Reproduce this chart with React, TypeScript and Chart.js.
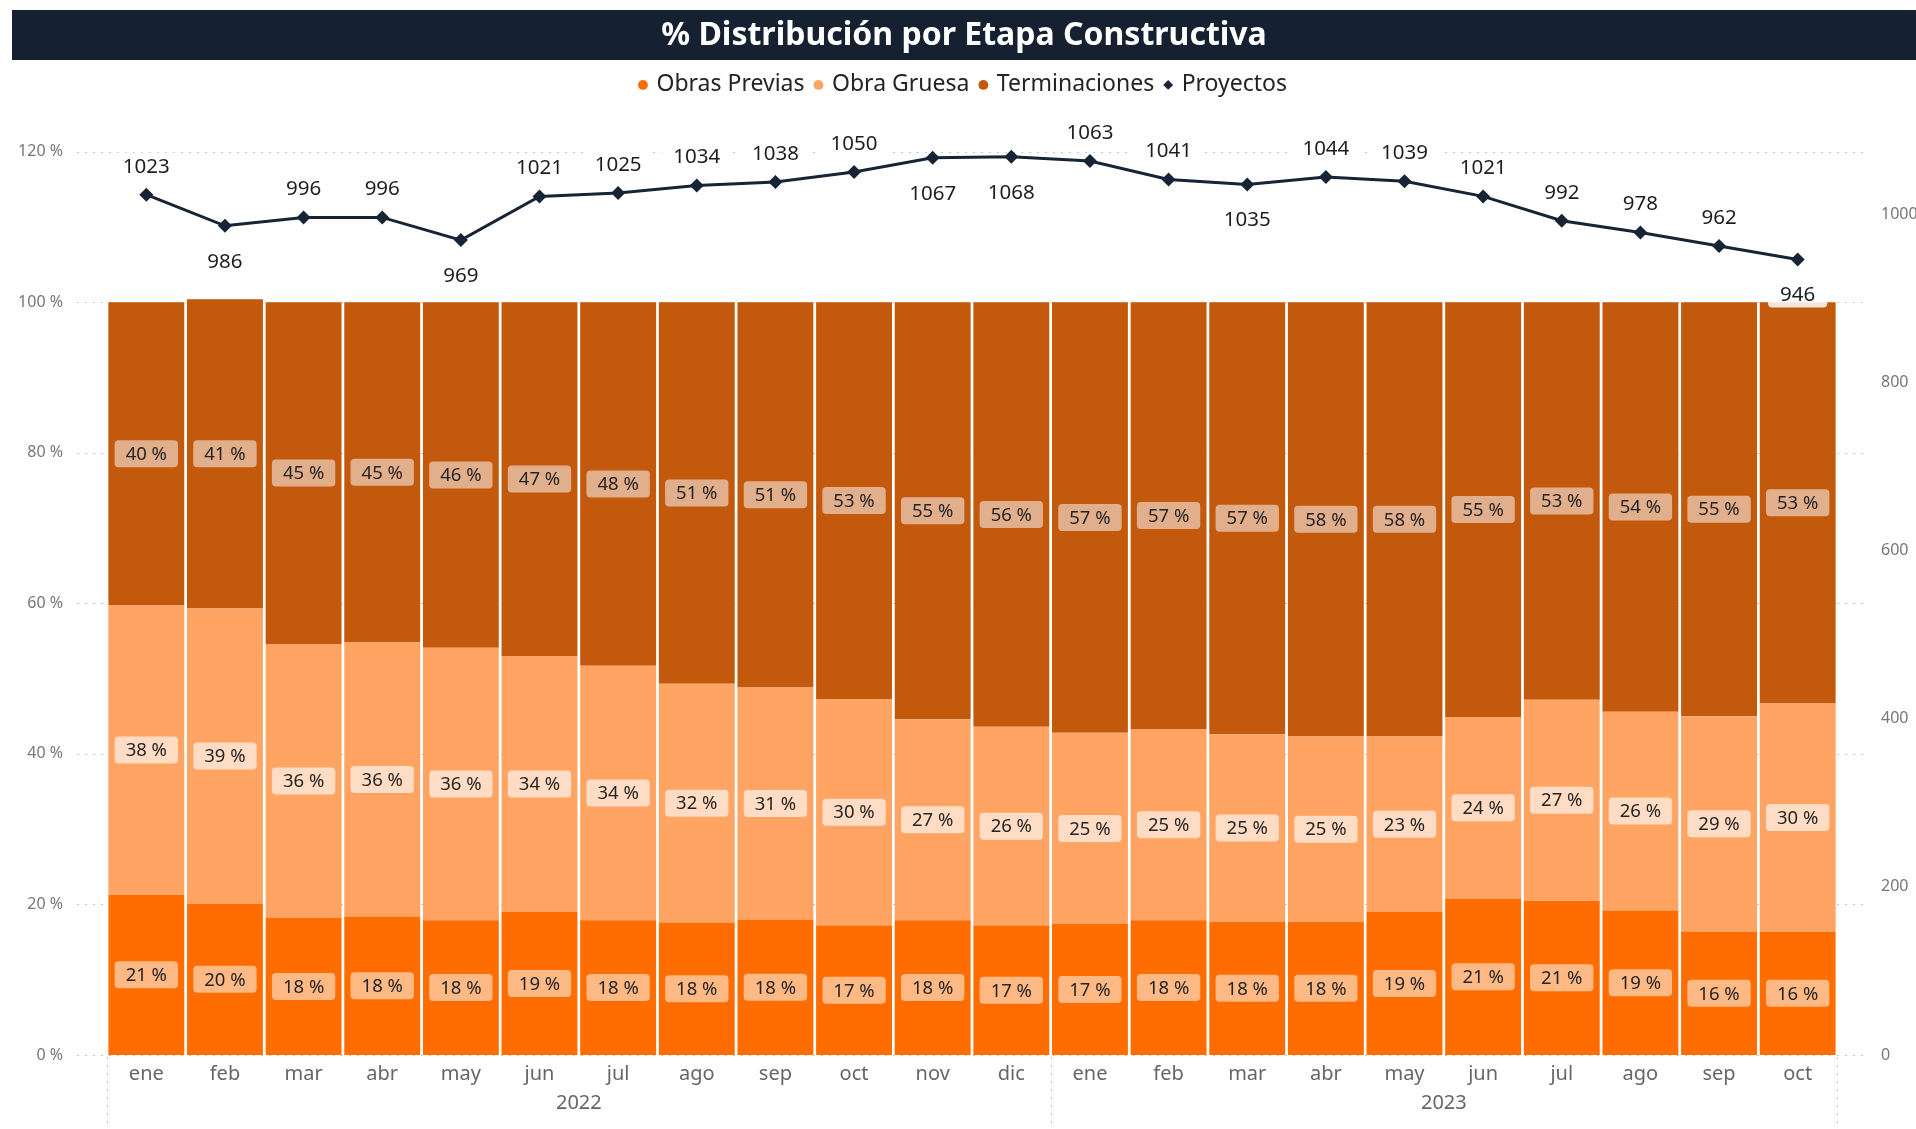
import React, { useEffect, useRef } from 'react';
import { Chart, registerables } from 'chart.js';

Chart.register(...registerables);

const months = ['ene', 'feb', 'mar', 'abr', 'may', 'jun', 'jul', 'ago', 'sep', 'oct', 'nov', 'dic', 'ene', 'feb', 'mar', 'abr', 'may', 'jun', 'jul', 'ago', 'sep', 'oct'];
const years = ['2022', '2023'];
const yearSpans = [12, 10];

const obrasPrevias = [21.3, 20.1, 18.2, 18.4, 17.9, 19.0, 17.9, 17.6, 18.0, 17.2, 17.9, 17.2, 17.4, 17.9, 17.7, 17.7, 19.0, 20.8, 20.5, 19.2, 16.4, 16.4];
const obraGruesa = [38.4, 39.2, 36.4, 36.4, 36.2, 34.0, 33.8, 31.7, 30.8, 30.1, 26.7, 26.4, 25.4, 25.4, 24.9, 24.6, 23.3, 24.1, 26.7, 26.4, 28.6, 30.3];
const terminaciones = [40.3, 41.1, 45.4, 45.2, 45.9, 47.0, 48.3, 50.7, 51.2, 52.7, 55.4, 56.4, 57.2, 56.7, 57.4, 57.7, 57.7, 55.1, 52.8, 54.4, 55.0, 53.3];
const proyectos = [1023, 986, 996, 996, 969, 1021, 1025, 1034, 1038, 1050, 1067, 1068, 1063, 1041, 1035, 1044, 1039, 1021, 992, 978, 962, 946];

const leftTicks = [0, 20, 40, 60, 80, 100, 120];
const rightTicks = [0, 200, 400, 600, 800, 1000];
const lineLabelBelow = [1, 4, 10, 11, 14, 21];

const FONT = '"Noto Sans", "Open Sans", sans-serif';
const COL_OP = '#FF6D00';
const COL_OG = '#FFA462';
const COL_T = '#C2590C';
const COL_LINE = '#172435';
const LABEL_BG = ['#FFB985', '#FFDCC3', '#E2AF8C'];

function roundRect(ctx: CanvasRenderingContext2D, x: number, y: number, w: number, h: number, r: number) {
  ctx.beginPath();
  ctx.moveTo(x + r, y);
  ctx.lineTo(x + w - r, y);
  ctx.quadraticCurveTo(x + w, y, x + w, y + r);
  ctx.lineTo(x + w, y + h - r);
  ctx.quadraticCurveTo(x + w, y + h, x + w - r, y + h);
  ctx.lineTo(x + r, y + h);
  ctx.quadraticCurveTo(x, y + h, x, y + h - r);
  ctx.lineTo(x, y + r);
  ctx.quadraticCurveTo(x, y, x + r, y);
  ctx.closePath();
}

const decorPlugin = {
  id: 'decor',
  beforeDraw(chart: any) {
    const ctx = chart.ctx as CanvasRenderingContext2D;
    ctx.save();
    ctx.fillStyle = '#FFFFFF';
    ctx.fillRect(0, 0, chart.width, chart.height);
    ctx.fillStyle = '#152131';
    ctx.fillRect(12, 10, chart.width - 12, 50);
    ctx.restore();
  },
  beforeDatasetsDraw(chart: any) {
    const ctx = chart.ctx as CanvasRenderingContext2D;
    const { chartArea, scales } = chart;
    const y = scales.y;
    ctx.save();
    ctx.strokeStyle = '#C4C4C4';
    ctx.lineWidth = 1;
    ctx.setLineDash([2, 6]);
    for (const v of leftTicks) {
      const py = Math.round(y.getPixelForValue(v)) + 0.5;
      ctx.beginPath();
      ctx.moveTo(77, py);
      ctx.lineTo(1866, py);
      ctx.stroke();
    }
    // year separators below the axis
    const cw = (chartArea.right - chartArea.left) / months.length;
    let idx = 0;
    const bounds = [0];
    yearSpans.forEach((s) => { idx += s; bounds.push(idx); });
    bounds.forEach((b) => {
      const px = Math.round(chartArea.left + b * cw) + 0.5;
      ctx.beginPath();
      ctx.moveTo(px, chartArea.bottom + 2);
      ctx.lineTo(px, chart.height - 4);
      ctx.stroke();
    });
    ctx.restore();
  },
  afterDatasetsDraw(chart: any) {
    const ctx = chart.ctx as CanvasRenderingContext2D;
    ctx.save();
    // bar labels
    ctx.font = `18.5px ${FONT}`;
    ctx.textAlign = 'center';
    ctx.textBaseline = 'middle';
    for (let d = 0; d < 3; d++) {
      const meta = chart.getDatasetMeta(d);
      const values = chart.data.datasets[d].data as number[];
      meta.data.forEach((el: any, j: number) => {
        const p = el.getProps(['x', 'y', 'base'], true);
        const cy = (p.y + p.base) / 2;
        const text = `${Math.round(values[j])} %`;
        const tw = ctx.measureText(text).width;
        const w = tw + 22;
        const h = 27;
        ctx.fillStyle = LABEL_BG[d];
        roundRect(ctx, p.x - w / 2, cy - h / 2, w, h, 4);
        ctx.fill();
        ctx.fillStyle = '#252423';
        ctx.fillText(text, p.x, cy + 1);
      });
    }
    // line labels
    const lmeta = chart.getDatasetMeta(3);
    ctx.font = `20.5px ${FONT}`;
    lmeta.data.forEach((el: any, j: number) => {
      const p = el.getProps(['x', 'y'], true);
      const below = lineLabelBelow.includes(j);
      const ty = below ? p.y + 35 : p.y - 29;
      const text = String(proyectos[j]);
      const tw = ctx.measureText(text).width;
      const w = tw + 24;
      const h = 26;
      ctx.fillStyle = 'rgba(255,255,255,0.85)';
      roundRect(ctx, p.x - w / 2, ty - h / 2, w, h, 4);
      ctx.fill();
      ctx.fillStyle = '#1E1E1E';
      ctx.fillText(text, p.x, ty + 1);
    });
    ctx.restore();
  },
  afterDraw(chart: any) {
    const ctx = chart.ctx as CanvasRenderingContext2D;
    const { chartArea } = chart;
    const cw = (chartArea.right - chartArea.left) / months.length;
    ctx.save();
    ctx.font = `20px ${FONT}`;
    ctx.fillStyle = '#666666';
    ctx.textAlign = 'center';
    ctx.textBaseline = 'middle';
    let start = 0;
    years.forEach((yr, i) => {
      const end = start + yearSpans[i];
      const cx = chartArea.left + ((start + end) / 2) * cw;
      ctx.fillText(yr, cx, 1103);
      start = end;
    });
    ctx.restore();
  },
};

export default function App() {
  const ref = useRef<HTMLCanvasElement>(null);
  useEffect(() => {
    const canvas = ref.current;
    if (!canvas) return;
    const chart = new Chart(canvas, {
      type: 'bar',
      data: {
        labels: months,
        datasets: [
          { type: 'bar', label: 'Obras Previas', data: obrasPrevias, backgroundColor: COL_OP, borderWidth: 0, barPercentage: 0.965, categoryPercentage: 1, yAxisID: 'y', order: 1 },
          { type: 'bar', label: 'Obra Gruesa', data: obraGruesa, backgroundColor: COL_OG, borderWidth: 0, barPercentage: 0.965, categoryPercentage: 1, yAxisID: 'y', order: 1 },
          { type: 'bar', label: 'Terminaciones', data: terminaciones, backgroundColor: COL_T, borderWidth: 0, barPercentage: 0.965, categoryPercentage: 1, yAxisID: 'y', order: 1 },
          {
            type: 'line', label: 'Proyectos', data: proyectos, yAxisID: 'y1', order: 0,
            borderColor: COL_LINE, backgroundColor: COL_LINE, borderWidth: 3, tension: 0,
            pointStyle: 'rectRot', pointRadius: 7, pointBackgroundColor: COL_LINE, pointBorderWidth: 0, clip: false,
          } as any,
        ],
      },
      options: {
        responsive: false,
        maintainAspectRatio: false,
        animation: false,
        layout: { padding: { left: 12, right: 0, top: 10, bottom: 0 } },
        plugins: {
          title: {
            display: true,
            text: '% Distribución por Etapa Constructiva',
            color: '#FFFFFF',
            font: { family: FONT, size: 32, weight: 'bold' },
            padding: { top: 7, bottom: 6 },
          },
          legend: {
            display: true,
            position: 'top',
            labels: {
              usePointStyle: true,
              boxWidth: 4,
              boxHeight: 7,
              padding: 12,
              color: '#252423',
              font: { family: FONT, size: 23 },
              sort: (a: any, b: any) => a.datasetIndex - b.datasetIndex,
              generateLabels: (ch: any) =>
                Chart.defaults.plugins.legend.labels.generateLabels(ch).map((l: any) => ({ ...l, lineWidth: 0 })),
            },
          },
          tooltip: { enabled: false },
        },
        scales: {
          x: {
            stacked: true,
            grid: { display: false, drawTicks: false },
            border: { display: false },
            ticks: { font: { family: FONT, size: 20 }, color: '#666666', padding: 7, maxRotation: 0, autoSkip: false },
            afterFit: (s: any) => { s.height = 74; },
          },
          y: {
            stacked: true,
            position: 'left',
            min: 0,
            max: 126,
            grid: { display: false, drawTicks: false },
            border: { display: false },
            ticks: { callback: (v: any) => `${v} %`, font: { family: FONT, size: 16 }, color: '#777777', padding: 44 },
            afterBuildTicks: (s: any) => { s.ticks = leftTicks.map((v) => ({ value: v })); },
            afterFit: (s: any) => { s.width = 95; },
          },
          y1: {
            position: 'right',
            min: 0,
            max: 1128,
            grid: { display: false, drawTicks: false },
            border: { display: false },
            ticks: { callback: (v: any) => String(v), font: { family: FONT, size: 16 }, color: '#777777', padding: 44 },
            afterBuildTicks: (s: any) => { s.ticks = rightTicks.map((v) => ({ value: v })); },
            afterFit: (s: any) => { s.width = 79; },
          },
        },
      } as any,
      plugins: [decorPlugin],
    });
    return () => chart.destroy();
  }, []);

  return (
    <div style={{ position: 'absolute', left: 0, top: 0, width: 1916, height: 1129, background: '#FFFFFF' }}>
      <canvas ref={ref} width={1916} height={1129} style={{ display: 'block' }} />
    </div>
  );
}
